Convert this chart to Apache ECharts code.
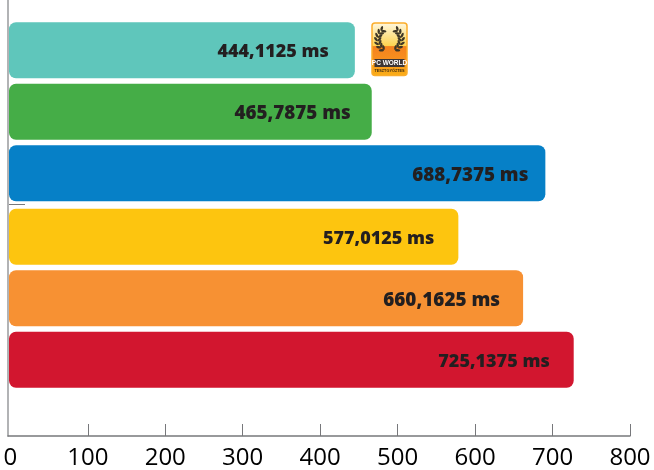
<!DOCTYPE html>
<html><head><meta charset="utf-8">
<style>html,body{margin:0;padding:0;background:#fff}#c{width:654px;height:470px}</style>
<script src="https://cdn.jsdelivr.net/npm/echarts@6/dist/echarts.min.js"></script>
</head><body><div id="c"></div>
<script>
const groupA = ['A1','A2','A3'];
const groupB = ['B1','B2','B3'];
const valuesA = [444.1125, 465.7875, 688.7375];
const valuesB = [577.0125, 660.1625, 725.1375];
const colorsA = ['#5fc6bb','#45ad47','#0680c7'];
const colorsB = ['#fdc50f','#f79133','#d2162f'];
const labelGapA = [26,21,17];
const labelGapB = [24,23,24];
const labelSizeA = [18,18.8,18.8];
const labelSizeB = [18,18.9,18];
const tickValues = [100,200,300,400,500,600,700,800];
const labelValues = [0,100,200,300,400,500,600,700,800];

const FONT = '"Open Sans","Noto Sans",sans-serif';
const fmt = v => v.toFixed(4).replace('.', ',') + ' ms';
const barSeries = (i, vals, cols, gaps, sizes) => ({
  type:'bar', xAxisIndex:i, yAxisIndex:i, barWidth:56, silent:true,
  data: vals.map((v,k)=>({
    value:v,
    itemStyle:{color:cols[k], borderRadius:7},
    label:{show:true, position:'insideRight', distance:gaps[k], offset:[0,2], formatter:p=>fmt(p.value),
      fontFamily:FONT, fontWeight:800, fontSize:sizes[k], color:'#231f20'}
  }))
});
const hiddenX = i => ({type:'value', gridIndex:i, min:0, max:800, show:false});
const hiddenY = (i,c) => ({type:'category', gridIndex:i, data:c, inverse:true, show:false});

const chart = echarts.init(document.getElementById('c'), null, {renderer:'canvas'});
const wreath = (side) => {
  const out = [];
  const cx = 389.5, cy = 39.5;
  for (let d = 35; d <= 160; d += 18) {
    const phi = d * Math.PI / 180;
    [[10, 0.7], [13.5, -0.7]].forEach(([r, tilt]) => {
      const x = cx + side * r * Math.sin(phi), y = cy - r * Math.cos(phi);
      out.push({type:'ellipse', x:x, y:y, shape:{cx:0, cy:0, rx:1.2, ry:2.6},
        rotation: side * (Math.PI/2 - phi + tilt),
        style:{fill:'#3f3726'}});
    });
  }
  return out;
};
chart.setOption({
  animation:false,
  backgroundColor:'#fff',
  grid:[
    {left:9, width:623, top:19.5, height:184.5},
    {left:9, width:623, top:206, height:184.5},
    {left:8, width:622, top:0, height:436}
  ],
  xAxis:[hiddenX(0), hiddenX(1), {
    type:'value', gridIndex:2, min:-3, max:800, splitLine:{show:false},
    axisLine:{show:true, lineStyle:{color:'#77787b', width:1.5}},
    axisTick:{show:true, inside:true, length:12, customValues:tickValues, lineStyle:{color:'#77787b', width:1}},
    axisLabel:{customValues:labelValues, formatter:v=>String(v), margin:10, fontFamily:FONT, fontSize:24, color:'#000'}
  }],
  yAxis:[hiddenY(0,groupA), hiddenY(1,groupB), {
    type:'value', gridIndex:2, min:0, max:1, splitLine:{show:false}, axisLabel:{show:false}, axisTick:{show:false},
    axisLine:{show:true, onZero:false, lineStyle:{color:'#999a9c', width:1.5}}
  }],
  series:[
    barSeries(0,valuesA,colorsA,labelGapA,labelSizeA),
    barSeries(1,valuesB,colorsB,labelGapB,labelSizeB)
  ],
  graphic:[
    {type:'line', shape:{x1:9,y1:204.5,x2:25,y2:204.5}, style:{stroke:'#77787b', lineWidth:1}},
    {type:'group', children:[
      {type:'rect', shape:{x:372,y:23,width:35,height:52.5,r:3},
        style:{fill:new echarts.graphic.LinearGradient(0,0,0,1,[
          {offset:0,color:'#fff8e2'},{offset:0.44,color:'#fdd34f'},{offset:0.45,color:'#f5821f'},
          {offset:0.68,color:'#f78f1e'},{offset:1,color:'#fbb016'}]), stroke:'#fbad2b', lineWidth:1.5}},
      ...wreath(1), ...wreath(-1),
      {type:'rect', shape:{x:374.5,y:59,width:30,height:8}, style:{fill:'#3b3535'}},
      {type:'text', x:389.5, y:63.2, style:{text:'PC WORLD', fill:'#fff', font:'700 6.5px "Liberation Sans Narrow","Liberation Sans",sans-serif', align:'center', verticalAlign:'middle'}},
      {type:'text', x:389.5, y:70.5, style:{text:'TESZTGYŐZTES', fill:'#3b2a10', font:'700 3.8px "Liberation Sans",sans-serif', align:'center', verticalAlign:'middle'}}
    ]}
  ]
});
</script></body></html>
